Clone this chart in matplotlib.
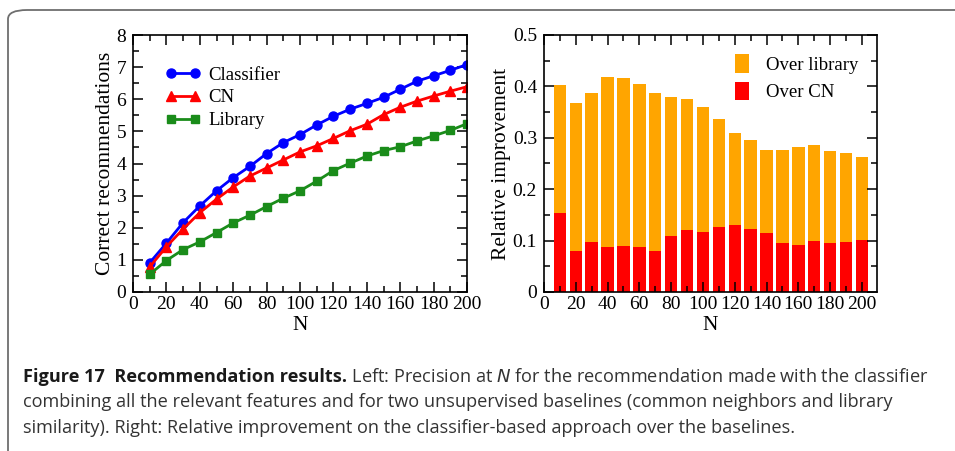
import matplotlib
matplotlib.use("Agg")
from matplotlib import pyplot as plt
from matplotlib.patches import FancyBboxPatch
from matplotlib.ticker import MultipleLocator

# Dados
n_vals = [10, 20, 30, 40, 50, 60, 70, 80, 90, 100,
          110, 120, 130, 140, 150, 160, 170, 180, 190, 200]
classifier = [0.91, 1.52, 2.16, 2.68, 3.15, 3.56, 3.91, 4.31, 4.65, 4.90,
              5.20, 5.47, 5.69, 5.87, 6.06, 6.31, 6.56, 6.73, 6.90, 7.08]
cn = [0.78, 1.41, 1.96, 2.47, 2.89, 3.27, 3.61, 3.86, 4.11, 4.36,
      4.55, 4.78, 5.02, 5.22, 5.52, 5.75, 5.94, 6.10, 6.25, 6.39]
library = [0.55, 0.98, 1.32, 1.56, 1.85, 2.15, 2.39, 2.66, 2.92, 3.15,
           3.45, 3.78, 4.01, 4.23, 4.40, 4.52, 4.70, 4.86, 5.03, 5.24]
over_library = [0.402, 0.367, 0.387, 0.419, 0.417, 0.405, 0.388, 0.379, 0.375, 0.359,
                0.336, 0.310, 0.295, 0.277, 0.276, 0.282, 0.286, 0.275, 0.271, 0.262]
over_cn = [0.153, 0.080, 0.098, 0.087, 0.089, 0.087, 0.080, 0.108, 0.121, 0.116,
           0.127, 0.130, 0.123, 0.115, 0.095, 0.091, 0.100, 0.095, 0.097, 0.101]

caption_bold = "Figure 17  Recommendation results."
caption_rest = [" Left: Precision at $N$ for the recommendation made with the classifier",
                "combining all the relevant features and for two unsupervised baselines (common neighbors and library",
                "similarity). Right: Relative improvement on the classifier-based approach over the baselines."]

W, H = 955, 451
fig = plt.figure(figsize=(W / 100, H / 100), dpi=100)
serif = "Liberation Serif"


def ax_rect(x0, y0, x1, y1):
    return [x0 / W, 1 - y1 / H, (x1 - x0) / W, (y1 - y0) / H]


def style_axes(ax):
    for s in ax.spines.values():
        s.set_linewidth(1.2)
    ax.tick_params(which="both", direction="in", top=True, right=True,
                   labelsize=14, width=1.1)
    ax.tick_params(axis="y", pad=5)
    ax.tick_params(axis="x", pad=3)
    ax.tick_params(which="major", length=7)
    ax.tick_params(which="minor", length=4)
    for lab in ax.get_xticklabels() + ax.get_yticklabels():
        lab.set_fontfamily(serif)


# borda arredondada
frame = FancyBboxPatch((8 / W, -0.1), 1.2, (H - 10) / H + 0.1,
                       boxstyle="round,pad=0,rounding_size=0.02",
                       transform=fig.transFigure, fill=False,
                       edgecolor="#6e6e6e", linewidth=1.3)
fig.add_artist(frame)

# Esquerda: precisão
ax1 = fig.add_axes(ax_rect(133, 35, 467, 292))
ax1.plot(n_vals, classifier, "-o", color="#0000ff", lw=2, ms=6.5, label="Classifier")
ax1.plot(n_vals, cn, "-^", color="#ff0000", lw=2, ms=6.5, label="CN")
ax1.plot(n_vals, library, "-s", color="#1a8c1a", lw=2, ms=6, label="Library")
ax1.set_xlim(0, 200)
ax1.set_ylim(0, 8)
ax1.xaxis.set_major_locator(MultipleLocator(20))
ax1.xaxis.set_minor_locator(MultipleLocator(10))
ax1.yaxis.set_major_locator(MultipleLocator(1))
ax1.yaxis.set_minor_locator(MultipleLocator(0.5))
style_axes(ax1)
ax1.set_xlabel("N", fontfamily=serif, fontsize=15.5, labelpad=2)
ax1.set_ylabel("Correct recommendations", fontfamily=serif, fontsize=15.5, labelpad=1)
ax1.legend(loc="upper left", frameon=False, numpoints=2, handlelength=1.9,
           prop={"family": serif, "size": 13.5}, borderaxespad=0.6,
           labelspacing=0.3, handletextpad=0.4, bbox_to_anchor=(0.04, 0.95))

# Direita: melhoria relativa
ax2 = fig.add_axes(ax_rect(544, 35, 877, 292))
ax2.bar(n_vals, over_library, width=7.8, color="#ffa500", label="Over library")
ax2.bar(n_vals, over_cn, width=7.8, color="#ff0000", label="Over CN")
ax2.set_xlim(0, 209.5)
ax2.set_ylim(0, 0.5)
ax2.xaxis.set_major_locator(MultipleLocator(20))
ax2.xaxis.set_minor_locator(MultipleLocator(10))
ax2.yaxis.set_major_locator(MultipleLocator(0.1))
ax2.yaxis.set_minor_locator(MultipleLocator(0.05))
ax2.yaxis.set_major_formatter(plt.FuncFormatter(lambda v, p: "0" if v == 0 else f"{v:.1f}"))
style_axes(ax2)
ax2.set_xlabel("N", fontfamily=serif, fontsize=15.5, labelpad=2)
ax2.set_ylabel("Relative improvement", fontfamily=serif, fontsize=15.5, labelpad=1)
ax2.legend(loc="upper right", frameon=False, handlelength=0.75, handleheight=1.15,
           prop={"family": serif, "size": 13.5}, labelspacing=0.4,
           handletextpad=0.9, bbox_to_anchor=(0.995, 0.99))

# Legenda da figura
cap_font = {"family": "Open Sans", "size": 13.1}
t = fig.text(23 / W, 1 - 382 / H, caption_bold, fontdict=cap_font,
             fontweight="bold", color="#1a1a1a", va="baseline")
fig.canvas.draw()
bb = t.get_window_extent()
fig.text(bb.x1 / W, 1 - 382 / H, caption_rest[0], fontdict=cap_font,
         color="#333333", va="baseline")
fig.text(23 / W, 1 - 407 / H, caption_rest[1], fontdict=cap_font,
         color="#333333", va="baseline")
fig.text(23 / W, 1 - 433 / H, caption_rest[2], fontdict=cap_font,
         color="#333333", va="baseline")

fig.savefig("out.png", dpi=100)
